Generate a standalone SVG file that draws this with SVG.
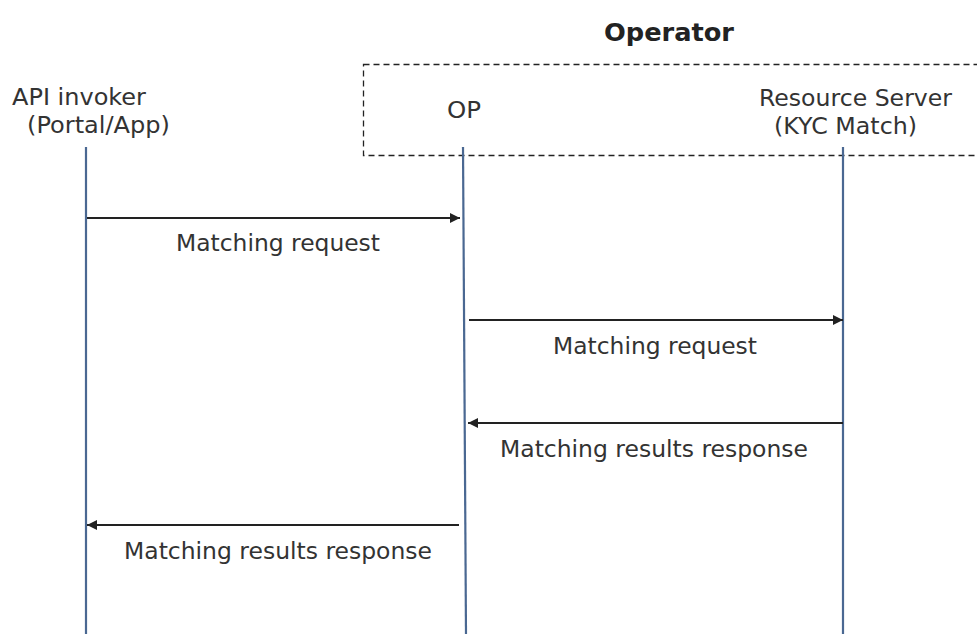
<svg xmlns="http://www.w3.org/2000/svg" width="977" height="634" viewBox="0 0 977 634">
<defs>
<style>
text{font-family:"DejaVu Sans","Noto Sans",sans-serif;font-size:23px;fill:#333333}
.title{font-weight:bold;font-size:24px;fill:#222222}
.life{stroke:#4a6892;stroke-width:2.2;fill:none}
.msg{stroke:#222222;stroke-width:2;fill:none;marker-end:url(#ah)}
.grp{fill:none;stroke:#222222;stroke-width:1.3;stroke-dasharray:6 4}
</style>
<marker id="ah" viewBox="0 0 10 10" refX="10" refY="5" markerWidth="5" markerHeight="5" orient="auto" markerUnits="strokeWidth">
<path d="M0,0 L10,5 L0,10 z" fill="#222222"/>
</marker>
</defs>
<rect width="977" height="634" fill="#ffffff"/>
<g id="operator-group">
<rect class="grp" x="363.5" y="64.5" width="640" height="91"/>
<text class="title" x="604" y="41" textLength="130" lengthAdjust="spacingAndGlyphs">Operator</text>
</g>
<g id="api-invoker">
<text x="12" y="105" textLength="134" lengthAdjust="spacingAndGlyphs">API invoker</text>
<text x="27" y="133" textLength="143" lengthAdjust="spacingAndGlyphs">(Portal/App)</text>
<line class="life" x1="86" y1="147" x2="86" y2="634"/>
</g>
<g id="op">
<text x="447" y="118" textLength="34" lengthAdjust="spacingAndGlyphs">OP</text>
<line class="life" x1="463" y1="147" x2="466" y2="634"/>
</g>
<g id="resource-server">
<text x="759" y="106" textLength="193" lengthAdjust="spacingAndGlyphs">Resource Server</text>
<text x="774" y="134" textLength="143" lengthAdjust="spacingAndGlyphs">(KYC Match)</text>
<line class="life" x1="843" y1="147" x2="843" y2="634"/>
</g>
<g id="connectors">
<line class="msg" x1="87" y1="218" x2="460" y2="218"/>
<text x="176" y="251" textLength="204" lengthAdjust="spacingAndGlyphs">Matching request</text>
<line class="msg" x1="469" y1="320" x2="843" y2="320"/>
<text x="553" y="354" textLength="204" lengthAdjust="spacingAndGlyphs">Matching request</text>
<line class="msg" x1="843" y1="423" x2="468" y2="423"/>
<text x="500" y="457" textLength="308" lengthAdjust="spacingAndGlyphs">Matching results response</text>
<line class="msg" x1="459" y1="525" x2="87" y2="525"/>
<text x="124" y="559" textLength="308" lengthAdjust="spacingAndGlyphs">Matching results response</text>
</g>
</svg>
